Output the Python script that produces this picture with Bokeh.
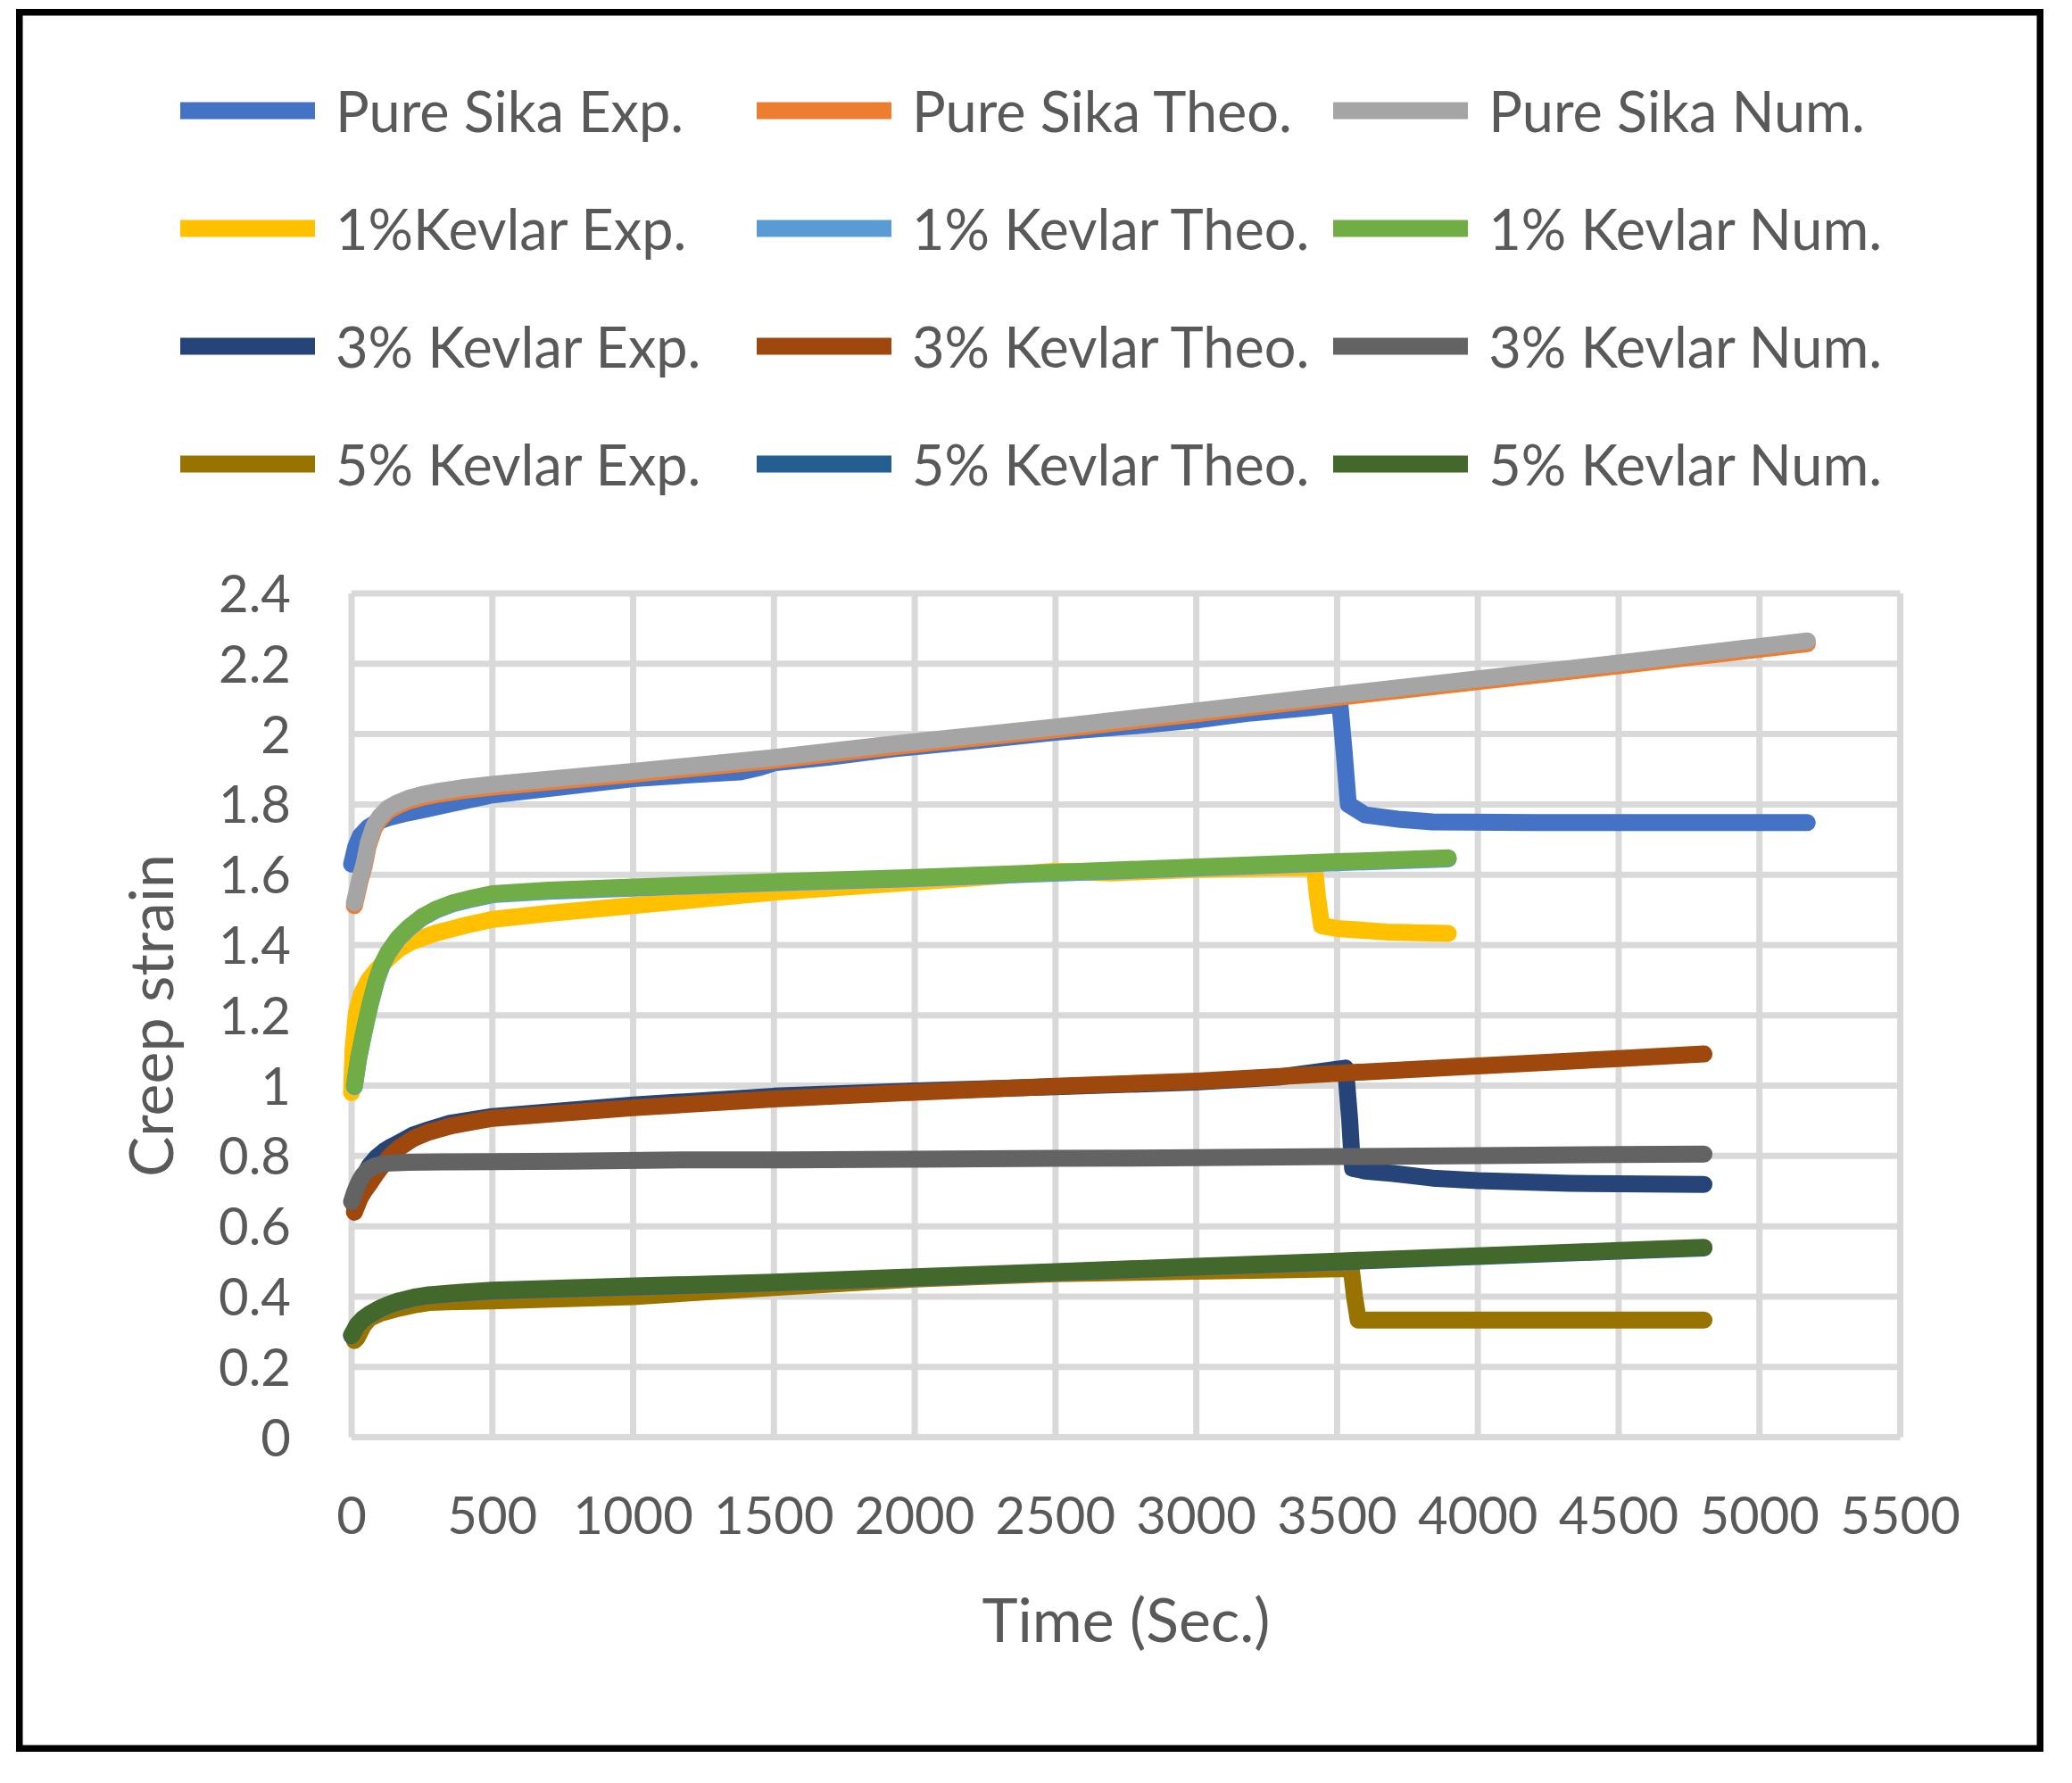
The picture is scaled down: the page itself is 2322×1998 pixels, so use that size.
from bokeh.plotting import figure
from bokeh.models import Range1d, FixedTicker, Legend, LegendItem
from bokeh.embed import file_html
from bokeh.resources import INLINE

# --- data (time in s, creep strain) ---
sika_exp_t = [0, 15, 31, 60, 90, 130, 200, 272, 400, 500, 700, 1000, 1200, 1377, 1450, 1500, 1700, 1926,
              2200, 2500, 2800, 3000, 3194, 3400, 3510, 3525, 3540, 3600, 3726, 3839, 4200, 4600, 5000, 5170]
sika_exp_v = [1.63, 1.68, 1.71, 1.735, 1.75, 1.762, 1.776, 1.788, 1.81, 1.827, 1.845, 1.873, 1.884, 1.892,
              1.905, 1.918, 1.935, 1.958, 1.98, 2.005, 2.025, 2.04, 2.06, 2.075, 2.085, 1.95, 1.80, 1.77,
              1.757, 1.75, 1.748, 1.748, 1.748, 1.748]

sika_t = [10, 30, 45, 59, 80, 100, 130, 165, 201, 250, 300, 400, 500, 1000, 1500, 1926, 2500, 3000, 3500,
          4000, 4500, 5170]
sika_theo_v = [1.512, 1.582, 1.625, 1.682, 1.732, 1.757, 1.782, 1.797, 1.809, 1.82, 1.828, 1.84, 1.849,
               1.886, 1.925, 1.964, 2.012, 2.058, 2.104, 2.149, 2.194, 2.257]
sika_num_v = [1.52, 1.59, 1.633, 1.69, 1.74, 1.765, 1.79, 1.805, 1.817, 1.828, 1.836, 1.848, 1.857, 1.894,
              1.933, 1.972, 2.02, 2.066, 2.112, 2.157, 2.202, 2.265]

k1_exp_t = [0, 5, 17, 35, 60, 90, 130, 170, 215, 300, 400, 500, 700, 1000, 1500, 1926, 2200, 2500, 2700,
            3000, 3300, 3420, 3430, 3445, 3500, 3677, 3895]
k1_exp_v = [0.98, 1.1, 1.207, 1.26, 1.30, 1.33, 1.362, 1.39, 1.41, 1.434, 1.455, 1.473, 1.49, 1.512, 1.55,
            1.575, 1.59, 1.61, 1.605, 1.615, 1.62, 1.62, 1.54, 1.455, 1.447, 1.437, 1.433]

k1_t = [10, 25, 45, 65, 88, 108, 130, 165, 201, 250, 300, 360, 414, 500, 700, 1000, 1500, 1926, 2500,
        3000, 3500, 3895]
k1_theo_v = [0.997, 1.077, 1.155, 1.227, 1.297, 1.342, 1.377, 1.417, 1.446, 1.477, 1.499, 1.517, 1.528,
             1.543, 1.553, 1.562, 1.577, 1.587, 1.604, 1.619, 1.634, 1.645]
k1_num_v = [1.0, 1.08, 1.158, 1.23, 1.30, 1.345, 1.38, 1.42, 1.449, 1.48, 1.502, 1.52, 1.531, 1.546, 1.556,
            1.565, 1.58, 1.59, 1.607, 1.622, 1.637, 1.648]

k3_exp_t = [10, 20, 30, 45, 63, 90, 116, 140, 169, 220, 275, 350, 500, 1000, 1500, 2000, 2500, 3000, 3300,
            3530, 3545, 3555, 3600, 3700, 3839, 4000, 4323, 4600, 4803]
k3_exp_v = [0.655, 0.69, 0.71, 0.745, 0.772, 0.797, 0.814, 0.826, 0.838, 0.86, 0.875, 0.893, 0.912, 0.945,
            0.97, 0.985, 0.997, 1.01, 1.025, 1.05, 0.9, 0.765, 0.757, 0.75, 0.737, 0.73, 0.722, 0.72, 0.719]

k3_theo_t = [10, 20, 30, 45, 63, 90, 116, 140, 169, 220, 275, 350, 500, 1000, 1500, 2000, 2500, 3000, 3500,
             4000, 4500, 4803]
k3_theo_v = [0.64, 0.66, 0.68, 0.70, 0.72, 0.752, 0.78, 0.803, 0.823, 0.85, 0.868, 0.885, 0.907, 0.937,
             0.962, 0.981, 0.998, 1.013, 1.035, 1.056, 1.077, 1.09]

k3_num_t = [0, 10, 20, 30, 42, 60, 85, 110, 137, 200, 328, 772, 1226, 1543, 2000, 2500, 3000, 3500, 4000,
            4500, 4803]
k3_num_v = [0.67, 0.695, 0.715, 0.732, 0.747, 0.762, 0.772, 0.777, 0.78, 0.782, 0.783, 0.785, 0.789, 0.789,
            0.791, 0.793, 0.795, 0.798, 0.801, 0.804, 0.805]

k5_exp_t = [10, 20, 40, 63, 100, 169, 220, 275, 380, 500, 1000, 1500, 2000, 2500, 3000, 3300, 3550, 3562,
            3575, 3700, 4200, 4803]
k5_exp_v = [0.275, 0.283, 0.315, 0.338, 0.352, 0.367, 0.376, 0.383, 0.386, 0.388, 0.40, 0.426, 0.45, 0.465,
            0.472, 0.476, 0.48, 0.40, 0.333, 0.333, 0.333, 0.333]

k5_t = [0, 10, 20, 40, 63, 100, 135, 169, 220, 275, 380, 500, 1000, 1500, 2000, 2500, 3000, 3500, 4000,
        4500, 4803]
k5_theo_v = [0.289, 0.303, 0.318, 0.335, 0.348, 0.365, 0.377, 0.386, 0.396, 0.403, 0.41, 0.416, 0.428,
             0.439, 0.454, 0.469, 0.484, 0.499, 0.514, 0.529, 0.538]
k5_num_v = [0.291, 0.305, 0.32, 0.337, 0.35, 0.367, 0.379, 0.388, 0.398, 0.405, 0.412, 0.418, 0.43, 0.441,
            0.456, 0.471, 0.486, 0.501, 0.516, 0.531, 0.54]

x_ticks = [0, 500, 1000, 1500, 2000, 2500, 3000, 3500, 4000, 4500, 5000, 5500]
y_ticks = [0, 0.2, 0.4, 0.6, 0.8, 1, 1.2, 1.4, 1.6, 1.8, 2, 2.2, 2.4]
y_labels = ["0", "0.2", "0.4", "0.6", "0.8", "1", "1.2", "1.4", "1.6", "1.8", "2", "2.2", "2.4"]

series = [
    ("Pure Sika Exp.", sika_exp_t, sika_exp_v, "#4472C4"),
    ("Pure Sika Theo.", sika_t, sika_theo_v, "#ED7D31"),
    ("Pure Sika Num.", sika_t, sika_num_v, "#A5A5A5"),
    ("1%Kevlar Exp.", k1_exp_t, k1_exp_v, "#FFC000"),
    ("1% Kevlar Theo.", k1_t, k1_theo_v, "#5B9BD5"),
    ("1% Kevlar Num.", k1_t, k1_num_v, "#70AD47"),
    ("3% Kevlar Exp.", k3_exp_t, k3_exp_v, "#264478"),
    ("3% Kevlar Theo.", k3_theo_t, k3_theo_v, "#9E480E"),
    ("3% Kevlar Num.", k3_num_t, k3_num_v, "#636363"),
    ("5% Kevlar Exp.", k5_exp_t, k5_exp_v, "#997300"),
    ("5% Kevlar Theo.", k5_t, k5_theo_v, "#255E91"),
    ("5% Kevlar Num.", k5_t, k5_num_v, "#43682B"),
]

FONT = "Lato"
TEXT = "#595959"

# canvas size and where the data area sits in it (pixels)
W, H = 2272, 1953
PL, PR, PT, PB = 375.5, 2111, 654.5, 1600
X0, X1, Y0, Y1 = 0, 5500, 0, 2.4

# the frame fills the whole canvas so the legend above the data area is not clipped;
# the ranges are stretched so that the data area lands at PL..PR / PT..PB
sx = (X1 - X0) / (PR - PL)
sy = (Y1 - Y0) / (PB - PT)
x_range = Range1d(X0 - PL * sx, X1 + (W - PR) * sx)
y_range = Range1d(Y0 - (H - PB) * sy, Y1 + PT * sy)

p = figure(width=W, height=H, output_backend="svg", toolbar_location=None,
           x_range=x_range, y_range=y_range, min_border=0)
p.styles = {"margin-left": "18px", "margin-top": "10px"}
# frame == canvas, so the outline is the black box round the chart (half of it is clipped)
p.outline_line_color = "black"
p.outline_line_width = 14
p.background_fill_color = "white"
p.border_fill_color = "white"
p.grid.visible = False

# grid lines limited to the data area
p.segment(x0=x_ticks, y0=Y0, x1=x_ticks, y1=Y1, line_color="#D9D9D9", line_width=7)
p.segment(x0=X0, y0=y_ticks, x1=X1, y1=y_ticks, line_color="#D9D9D9", line_width=7)

for ax in (p.xaxis, p.yaxis):
    ax.fixed_location = 0
    ax.axis_line_color = None
    ax.major_tick_line_color = None
    ax.minor_tick_line_color = None
    ax.major_label_text_font = FONT
    ax.major_label_text_font_size = "58px"
    ax.major_label_text_color = TEXT
    ax.axis_label_text_font = FONT
    ax.axis_label_text_font_size = "68px"
    ax.axis_label_text_color = TEXT
    ax.axis_label_text_font_style = "normal"

p.xaxis.bounds = (X0, X1)
p.yaxis.bounds = (Y0, Y1)
p.xaxis.ticker = FixedTicker(ticks=x_ticks)
p.yaxis.ticker = FixedTicker(ticks=y_ticks)
p.yaxis.major_label_overrides = dict(zip(y_ticks, y_labels))
p.xaxis.major_label_standoff = 60
p.yaxis.major_label_standoff = 62
p.xaxis.axis_label = "Time (Sec.)"
p.yaxis.axis_label = "Creep strain"
p.xaxis.axis_label_standoff = 51
p.yaxis.axis_label_standoff = 35

items = []
for name, t, v, color in series:
    r = p.line(t, v, line_color=color, line_width=19, line_cap="round", line_join="round")
    items.append(LegendItem(label=name, renderers=[r]))

legend = Legend(items=items, ncols=3, orientation="horizontal", location=(184, 1391),
                glyph_width=151, glyph_height=105, label_height=105, label_width=445,
                label_standoff=23, spacing=27, padding=0, margin=0, border_line_color=None,
                background_fill_alpha=0, label_text_font=FONT,
                label_text_font_size="63px", label_text_color=TEXT)
p.add_layout(legend, "center")

open("out.html", "w").write(file_html(p, INLINE))
